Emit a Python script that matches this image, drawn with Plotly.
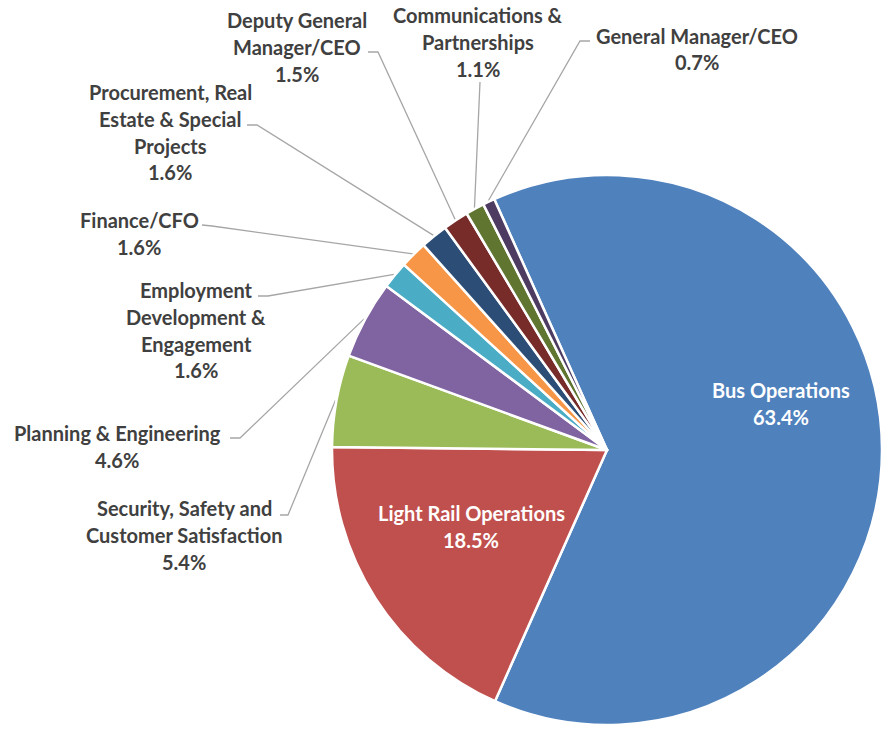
import math
import plotly.graph_objects as go

# ---- data ----
labels = [
    "Bus Operations",
    "Light Rail Operations",
    "Security, Safety and<br>Customer Satisfaction",
    "Planning & Engineering",
    "Employment<br>Development &<br>Engagement",
    "Finance/CFO",
    "Procurement, Real<br>Estate & Special<br>Projects",
    "Deputy General<br>Manager/CEO",
    "Communications &<br>Partnerships",
    "General Manager/CEO",
]
values = [63.4, 18.5, 5.4, 4.6, 1.6, 1.6, 1.6, 1.5, 1.1, 0.7]
colors = ["#4F81BD", "#C0504D", "#9BBB59", "#8064A2", "#4BACC6",
          "#F79646", "#2C4D75", "#772C2A", "#5F7530", "#4D3B62"]

# ---- layout (pixel positions of labels) ----
W, H = 882, 731
CX, CY, R = 607, 450, 275
ROT = -24.2
LINE_H = 26.8
label_x = [781, 471, 184, 117, 196, 139, 170, 297, 478, 697]
label_y0 = [390, 513, 508, 433, 290, 220, 92, 20, 15, 35.5]
inside = [True, True, False, False, False, False, False, False, False, False]
stub_a = [None, None, (280, 515), (230, 438), (258, 296), (202, 225),
          (247, 125), (368, 52), (480, 82), (590, 41)]
stub_b = [None, None, (288, 515), (240, 438), (268, 296), (212, 226),
          (257, 125), (378, 52), (480, 82), (580, 41)]

fig = go.Figure()

# leader lines (computed from slice mid-angles)
total = sum(values)
cum = 0.0
lx, ly = [], []
for i, v in enumerate(values):
    mid = ROT + (cum + v / 2) / total * 360.0
    cum += v
    if stub_a[i] is None:
        continue
    a = math.radians(mid)
    ex = CX + (R + 1) * math.sin(a)
    ey = CY - (R + 1) * math.cos(a)
    lx += [stub_a[i][0], stub_b[i][0], ex, None]
    ly += [stub_a[i][1], stub_b[i][1], ey, None]

fig.add_trace(go.Scatter(x=lx, y=ly, mode="lines",
                         line=dict(color="#A6A6A6", width=1.3),
                         hoverinfo="skip", showlegend=False))

fig.add_trace(go.Pie(
    labels=[l.replace("<br>", " ") for l in labels],
    values=values,
    sort=False,
    direction="clockwise",
    rotation=ROT,
    marker=dict(colors=colors, line=dict(color="white", width=2.5)),
    textinfo="none",
    showlegend=False,
    domain=dict(x=[(CX - R) / W, (CX + R) / W],
                y=[(H - CY - R) / H, (H - CY + R) / H]),
))

annotations = []
for i, (lab, v) in enumerate(zip(labels, values)):
    lines = lab.split("<br>") + [f"{v:.1f}%"]
    for j, t in enumerate(lines):
        annotations.append(dict(
            x=label_x[i], y=label_y0[i] + j * LINE_H, xref="x", yref="y",
            text=t, showarrow=False, xanchor="center", yanchor="middle",
            font=dict(family="Lato", size=20, weight="bold",
                      color="white" if inside[i] else "#404040"),
        ))

fig.update_layout(
    width=W, height=H,
    margin=dict(l=0, r=0, t=0, b=0),
    paper_bgcolor="white", plot_bgcolor="white",
    xaxis=dict(range=[0, W], visible=False, fixedrange=True, domain=[0, 1]),
    yaxis=dict(range=[H, 0], visible=False, fixedrange=True, domain=[0, 1]),
    annotations=annotations,
    showlegend=False,
)

fig.write_html("out.html")
